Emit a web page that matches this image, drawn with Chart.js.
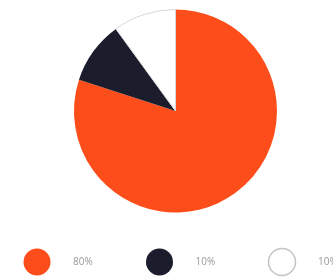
<!DOCTYPE html>
<html>
<head>
<meta charset="utf-8">
<script src="https://cdn.jsdelivr.net/npm/chart.js@4/dist/chart.umd.min.js"></script>
<style>
  html, body { margin: 0; padding: 0; background: #fff; }
  #wrap { width: 333px; height: 277px; }
</style>
</head>
<body>
<div id="wrap"><canvas id="pieChart"></canvas></div>
<script>
// données du graphique
const labels = ['80%', '10%', '10%'];
const values = [80, 10, 10];
const colors = ['#fd4d1a', '#1b1d2c', '#ffffff'];
const borders = ['#fd4d1a', '#1b1d2c', '#d6d6d6'];

// légende maison : gros ronds + petit texte gris
const bigLegend = {
  id: 'bigLegend',
  afterDraw(chart) {
    const ctx = chart.ctx;
    const meta = chart.data.labels;
    const y = 262;
    const step = 122.5;
    ctx.save();
    meta.forEach((lab, i) => {
      const cx = 37 + i * step;
      ctx.beginPath();
      ctx.arc(cx, y, 13.5, 0, Math.PI * 2);
      ctx.fillStyle = colors[i];
      ctx.fill();
      if (colors[i] === '#ffffff') {
        ctx.lineWidth = 1.5;
        ctx.strokeStyle = '#c4c4c4';
        ctx.stroke();
      }
      ctx.fillStyle = '#999999';
      ctx.font = '10px "Open Sans"';
      ctx.textBaseline = 'middle';
      ctx.fillText(lab, cx + 36, y);
    });
    ctx.restore();
  }
};

const ctx = document.getElementById('pieChart').getContext('2d');
new Chart(ctx, {
  type: 'pie',
  data: {
    labels: labels,
    datasets: [{
      data: values,
      backgroundColor: colors,
      borderColor: borders,
      borderWidth: [0, 0, 1]
    }]
  },
  options: {
    responsive: true,
    maintainAspectRatio: false,
    animation: false,
    layout: { padding: { top: 9, bottom: 64, left: 18, right: 0 } },
    plugins: {
      legend: { display: false },
      tooltip: { enabled: false }
    }
  },
  plugins: [bigLegend]
});
</script>
</body>
</html>
